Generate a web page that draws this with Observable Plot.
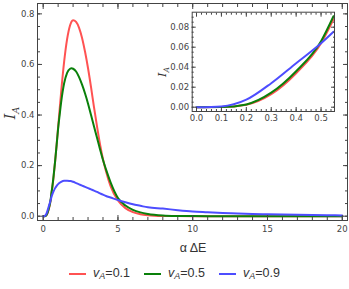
<!DOCTYPE html>
<html><head><meta charset="utf-8">
<script src="https://cdn.jsdelivr.net/npm/d3@7"></script>
<script src="https://cdn.jsdelivr.net/npm/@observablehq/plot@0.6"></script>
<style>
body{margin:0;background:#fff;}
#wrap{position:relative;width:349px;height:289px;}
#inset{position:absolute;left:150px;top:0;}
#legend{position:absolute;left:0;top:258px;width:349px;height:31px;display:flex;justify-content:center;align-items:center;font-family:"Liberation Sans",Arial,sans-serif;font-size:12.5px;color:#333;}
.item{display:flex;align-items:center;margin:0 7px;}
.item svg{margin-right:7px;}
sub{font-size:9px;vertical-align:-2px;}
</style></head><body>
<div id="wrap"><div id="main"></div><div id="inset"></div><div id="legend"></div></div>
<script>
// x values (α ΔE)
const xs = [0, 0.1, 0.2, 0.3, 0.4, 0.5, 0.55, 0.6, 0.7, 0.8, 0.9, 1.0, 1.1, 1.2, 1.4, 1.6, 1.8, 1.9, 2.0, 2.2, 2.4, 2.6, 2.8, 3.0, 3.2, 3.4, 3.6, 3.8, 4.0, 4.2, 4.5, 5.0, 5.5, 6, 6.5, 7, 8, 9, 10, 11, 12, 13, 14, 15, 16, 17, 18, 19, 20];
// I_A for v_A = 0.1
const redVals = [0, 0.0001, 0.0025, 0.013, 0.034, 0.064, 0.088, 0.108, 0.158, 0.218, 0.283, 0.352, 0.422, 0.49, 0.61, 0.70, 0.755, 0.77, 0.775, 0.768, 0.745, 0.705, 0.65, 0.585, 0.51, 0.43, 0.355, 0.285, 0.225, 0.178, 0.12, 0.062, 0.032, 0.016, 0.008, 0.004, 0.001, 0.0003, 0.0001, 0, 0, 0, 0, 0, 0, 0, 0, 0, 0];
// I_A for v_A = 0.5
const greenVals = [0, 0.0001, 0.0028, 0.0145, 0.036, 0.066, 0.091, 0.111, 0.161, 0.219, 0.282, 0.347, 0.40, 0.45, 0.525, 0.567, 0.583, 0.585, 0.583, 0.572, 0.55, 0.52, 0.485, 0.445, 0.40, 0.355, 0.31, 0.265, 0.222, 0.185, 0.135, 0.072, 0.042, 0.025, 0.015, 0.009, 0.003, 0.001, 0.0004, 0.0001, 0, 0, 0, 0, 0, 0, 0, 0, 0];
// I_A for v_A = 0.9
const blueVals = [0, 0.0008, 0.0075, 0.024, 0.044, 0.064, 0.0755, 0.0845, 0.099, 0.111, 0.12, 0.127, 0.132, 0.136, 0.1405, 0.1405, 0.139, 0.138, 0.136, 0.131, 0.126, 0.121, 0.116, 0.111, 0.106, 0.101, 0.096, 0.09, 0.085, 0.08, 0.074, 0.064, 0.055, 0.047, 0.041, 0.035, 0.03, 0.024, 0.019, 0.016, 0.013, 0.011, 0.009, 0.0075, 0.0063, 0.0053, 0.0045, 0.0038, 0.0032];

const seriesNames = ["0.1", "0.5", "0.9"];
const seriesColors = ["#ff5252", "#0a800a", "#4d4dff"];
const mainXTicks = [0, 5, 10, 15, 20];
const mainYTicks = [0, 0.2, 0.4, 0.6, 0.8];
const insetXTicks = [0, 0.1, 0.2, 0.3, 0.4, 0.5];
const insetYTicks = [0, 0.02, 0.04, 0.06, 0.08];
const insetXMax = 0.55;

const allVals = [redVals, greenVals, blueVals];
const data = [];
seriesNames.forEach((s, i) => xs.forEach((x, j) => data.push({x, y: allVals[i][j], s})));
const insetData = data.filter(d => d.x <= insetXMax);

const blank = () => "";
function frameTicks(xMaj, xMin, yMaj, yMin, L, l) {
  const marks = [];
  for (const [t, len] of [[xMin, l], [xMaj, L]]) {
    marks.push(Plot.axisX(t, {anchor: "bottom", tickSize: len, dy: -len, tickFormat: blank, label: null}));
    marks.push(Plot.axisX(t, {anchor: "top", tickSize: len, dy: len, tickFormat: blank, label: null}));
  }
  for (const [t, len] of [[yMin, l], [yMaj, L]]) {
    marks.push(Plot.axisY(t, {anchor: "left", tickSize: len, dx: len, tickFormat: blank, label: null}));
    marks.push(Plot.axisY(t, {anchor: "right", tickSize: len, dx: -len, tickFormat: blank, label: null}));
  }
  return marks;
}
const range = (a, b, s) => d3.range(Math.round((b - a) / s) + 1).map(i => +(a + i * s).toFixed(6));

const main = Plot.plot({
  width: 349, height: 258,
  marginLeft: 37, marginTop: 3, marginRight: 2, marginBottom: 38,
  style: {fontFamily: "DejaVu Sans, sans-serif", fontSize: "8.5px", color: "#444", background: "transparent"},
  x: {domain: [-0.38, 20.35]},
  y: {domain: [-0.017, 0.841]},
  color: {domain: seriesNames, range: seriesColors},
  marks: [
    Plot.line(data, {x: "x", y: "y", stroke: "s", z: "s", strokeWidth: 2, curve: "monotone-x"}),
    Plot.frame({stroke: "currentColor"}),
    ...frameTicks(mainXTicks, range(0, 20, 1), mainYTicks, range(0, 0.8, 0.05), 5, 3),
    Plot.axisX(mainXTicks, {anchor: "bottom", tickSize: 0, tickPadding: 5, label: null}),
    Plot.axisY(mainYTicks, {anchor: "left", tickSize: 0, tickPadding: 3, tickFormat: d3.format(".1f"), label: null})
  ]
});
document.getElementById("main").appendChild(main);

const inset = Plot.plot({
  width: 190, height: 130,
  marginLeft: 41.7, marginTop: 11.7, marginRight: 6, marginBottom: 19,
  style: {fontFamily: "DejaVu Sans, sans-serif", fontSize: "8.5px", color: "#444", background: "transparent"},
  x: {domain: [-0.0173, 0.554]},
  y: {domain: [-0.0043, 0.095]},
  color: {domain: seriesNames, range: seriesColors},
  marks: [
    Plot.line(insetData, {x: "x", y: "y", stroke: "s", z: "s", strokeWidth: 2, curve: "monotone-x"}),
    Plot.frame({stroke: "currentColor"}),
    ...frameTicks(insetXTicks, range(0, 0.54, 0.02), insetYTicks, range(0, 0.09, 0.005), 4, 2),
    Plot.axisX(insetXTicks, {anchor: "bottom", tickSize: 0, tickPadding: 3, tickFormat: d3.format(".1f"), label: null}),
    Plot.axisY(insetYTicks, {anchor: "left", tickSize: 0, tickPadding: 3, tickFormat: d3.format(".2f"), label: null})
  ]
});
document.getElementById("inset").appendChild(inset);

// axis labels
const ms = d3.select(main);
ms.append("text").attr("x", 193).attr("y", 252).attr("text-anchor", "middle")
  .style("font-family", "Liberation Sans, Arial, sans-serif").style("font-size", "12.5px").attr("fill", "#333")
  .text("α ΔE");
function iaLabel(sel, x, y, fs) {
  const t = sel.append("text").attr("transform", `translate(${x},${y}) rotate(-90)`).attr("text-anchor", "middle")
    .attr("dy", "0.35em").attr("fill", "#333")
    .style("font-family", "DejaVu Serif, serif").style("font-style", "italic").style("font-size", fs + "px");
  t.append("tspan").text("I");
  t.append("tspan").attr("dy", fs * 0.3).style("font-size", (fs * 0.7) + "px").text("A");
}
iaLabel(ms, 10, 113, 14);
iaLabel(d3.select(inset), 12, 72, 11);

// legend
const legend = d3.select("#legend");
seriesNames.forEach((s, i) => {
  const it = legend.append("div").attr("class", "item");
  it.append("svg").attr("width", 17).attr("height", 4).append("line")
    .attr("x1", 0).attr("x2", 17).attr("y1", 2).attr("y2", 2).attr("stroke", seriesColors[i]).attr("stroke-width", 2);
  it.append("span").html(`<i>v</i><sub><i>A</i></sub>=${s}`);
});
</script></body></html>
